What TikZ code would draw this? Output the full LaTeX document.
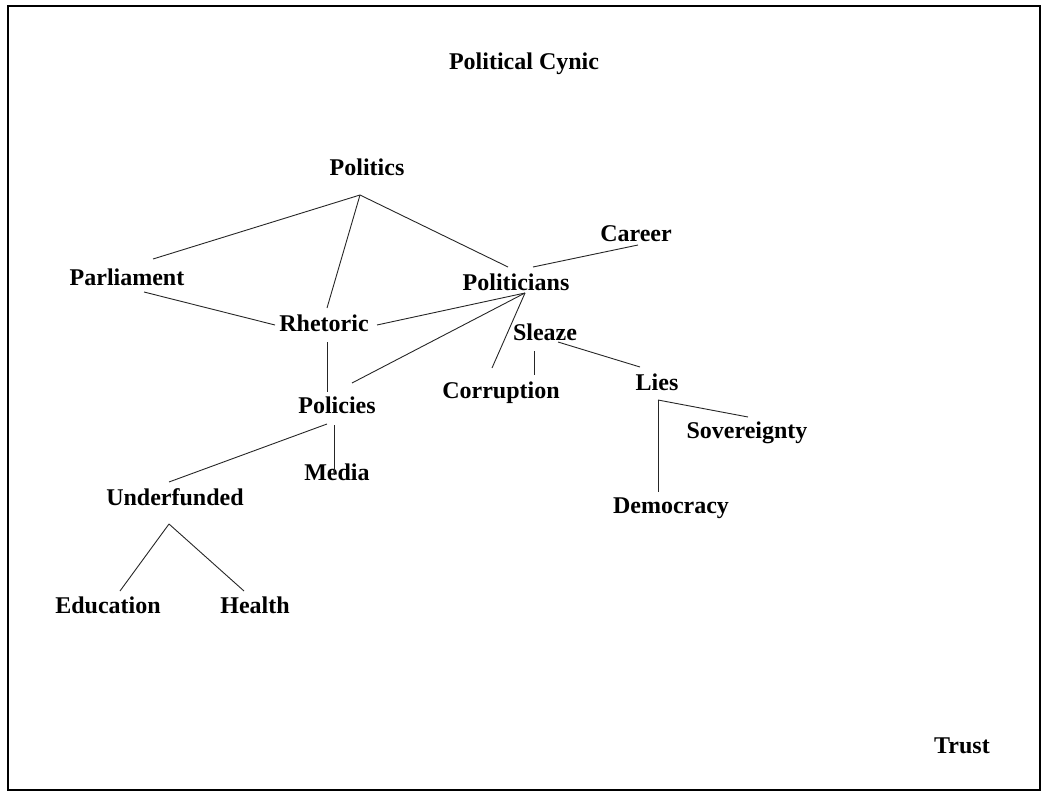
\documentclass[tikz,border=0pt]{standalone}
\usepackage{fontspec}
\setmainfont{Liberation Serif}
\usetikzlibrary{arrows}
\tikzstyle{word} = [font=\bfseries\fontsize{24}{28}\selectfont, anchor=base, inner sep=0pt]
\tikzstyle{line} = [draw, line width=0.9pt, black!85]

\begin{document}
\begin{tikzpicture}[x=1pt, y=-1pt]
  \useasboundingbox (0,0) rectangle (1053,792);
  \draw [line width=2.2pt] (8,6) rectangle (1040,790);
  % nodes
  \node [word] (title) at (524,70) {Political Cynic};
  \node [word] (politics) at (367,175) {Politics};
  \node [word] (parliament) at (127,285) {Parliament};
  \node [word] (rhetoric) at (324,331) {Rhetoric};
  \node [word] (politicians) at (516,290) {Politicians};
  \node [word] (career) at (636,241) {Career};
  \node [word] (sleaze) at (545,340) {Sleaze};
  \node [word] (corruption) at (501,398) {Corruption};
  \node [word] (lies) at (657,390) {Lies};
  \node [word] (sovereignty) at (747,438) {Sovereignty};
  \node [word] (democracy) at (671,513) {Democracy};
  \node [word] (policies) at (337,413) {Policies};
  \node [word] (media) at (337,480) {Media};
  \node [word] (underfunded) at (175,505) {Underfunded};
  \node [word] (education) at (108,613) {Education};
  \node [word] (health) at (255,613) {Health};
  \node [word] (trust) at (962,753) {Trust};
  % edges
  \path [line] ([shift={(-7,20)}]politics.base) -- ([shift={(26,-26)}]parliament.base);
  \path [line] ([shift={(-7,20)}]politics.base) -- ([shift={(3,-23)}]rhetoric.base);
  \path [line] ([shift={(-7,20)}]politics.base) -- ([shift={(-8,-23)}]politicians.base);
  \path [line] ([shift={(17,7)}]parliament.base) -- ([shift={(-49,-6)}]rhetoric.base);
  \path [line] ([shift={(17,-23)}]politicians.base) -- ([shift={(2,4)}]career.base);
  \path [line] ([shift={(9,3)}]politicians.base) -- ([shift={(53,-6)}]rhetoric.base);
  \path [line] ([shift={(9,3)}]politicians.base) -- ([shift={(15,-30)}]policies.base);
  \path [line] ([shift={(9,3)}]politicians.base) -- ([shift={(-9,-30)}]corruption.base);
  \path [line] ([shift={(3,11)}]rhetoric.base) -- ([shift={(-10,-21)}]policies.base);
  \path [line] ([shift={(-11,11)}]sleaze.base) -- ([shift={(33,-23)}]corruption.base);
  \path [line] ([shift={(13,2)}]sleaze.base) -- ([shift={(-17,-23)}]lies.base);
  \path [line] ([shift={(1,10)}]lies.base) -- ([shift={(1,-21)}]sovereignty.base);
  \path [line] ([shift={(1,10)}]lies.base) -- ([shift={(-13,-21)}]democracy.base);
  \path [line] ([shift={(-10,11)}]policies.base) -- ([shift={(-6,-23)}]underfunded.base);
  \path [line] ([shift={(-3,12)}]policies.base) -- ([shift={(-3,-5)}]media.base);
  \path [line] ([shift={(-6,19)}]underfunded.base) -- ([shift={(12,-22)}]education.base);
  \path [line] ([shift={(-6,19)}]underfunded.base) -- ([shift={(-11,-22)}]health.base);
\end{tikzpicture}
\end{document}
